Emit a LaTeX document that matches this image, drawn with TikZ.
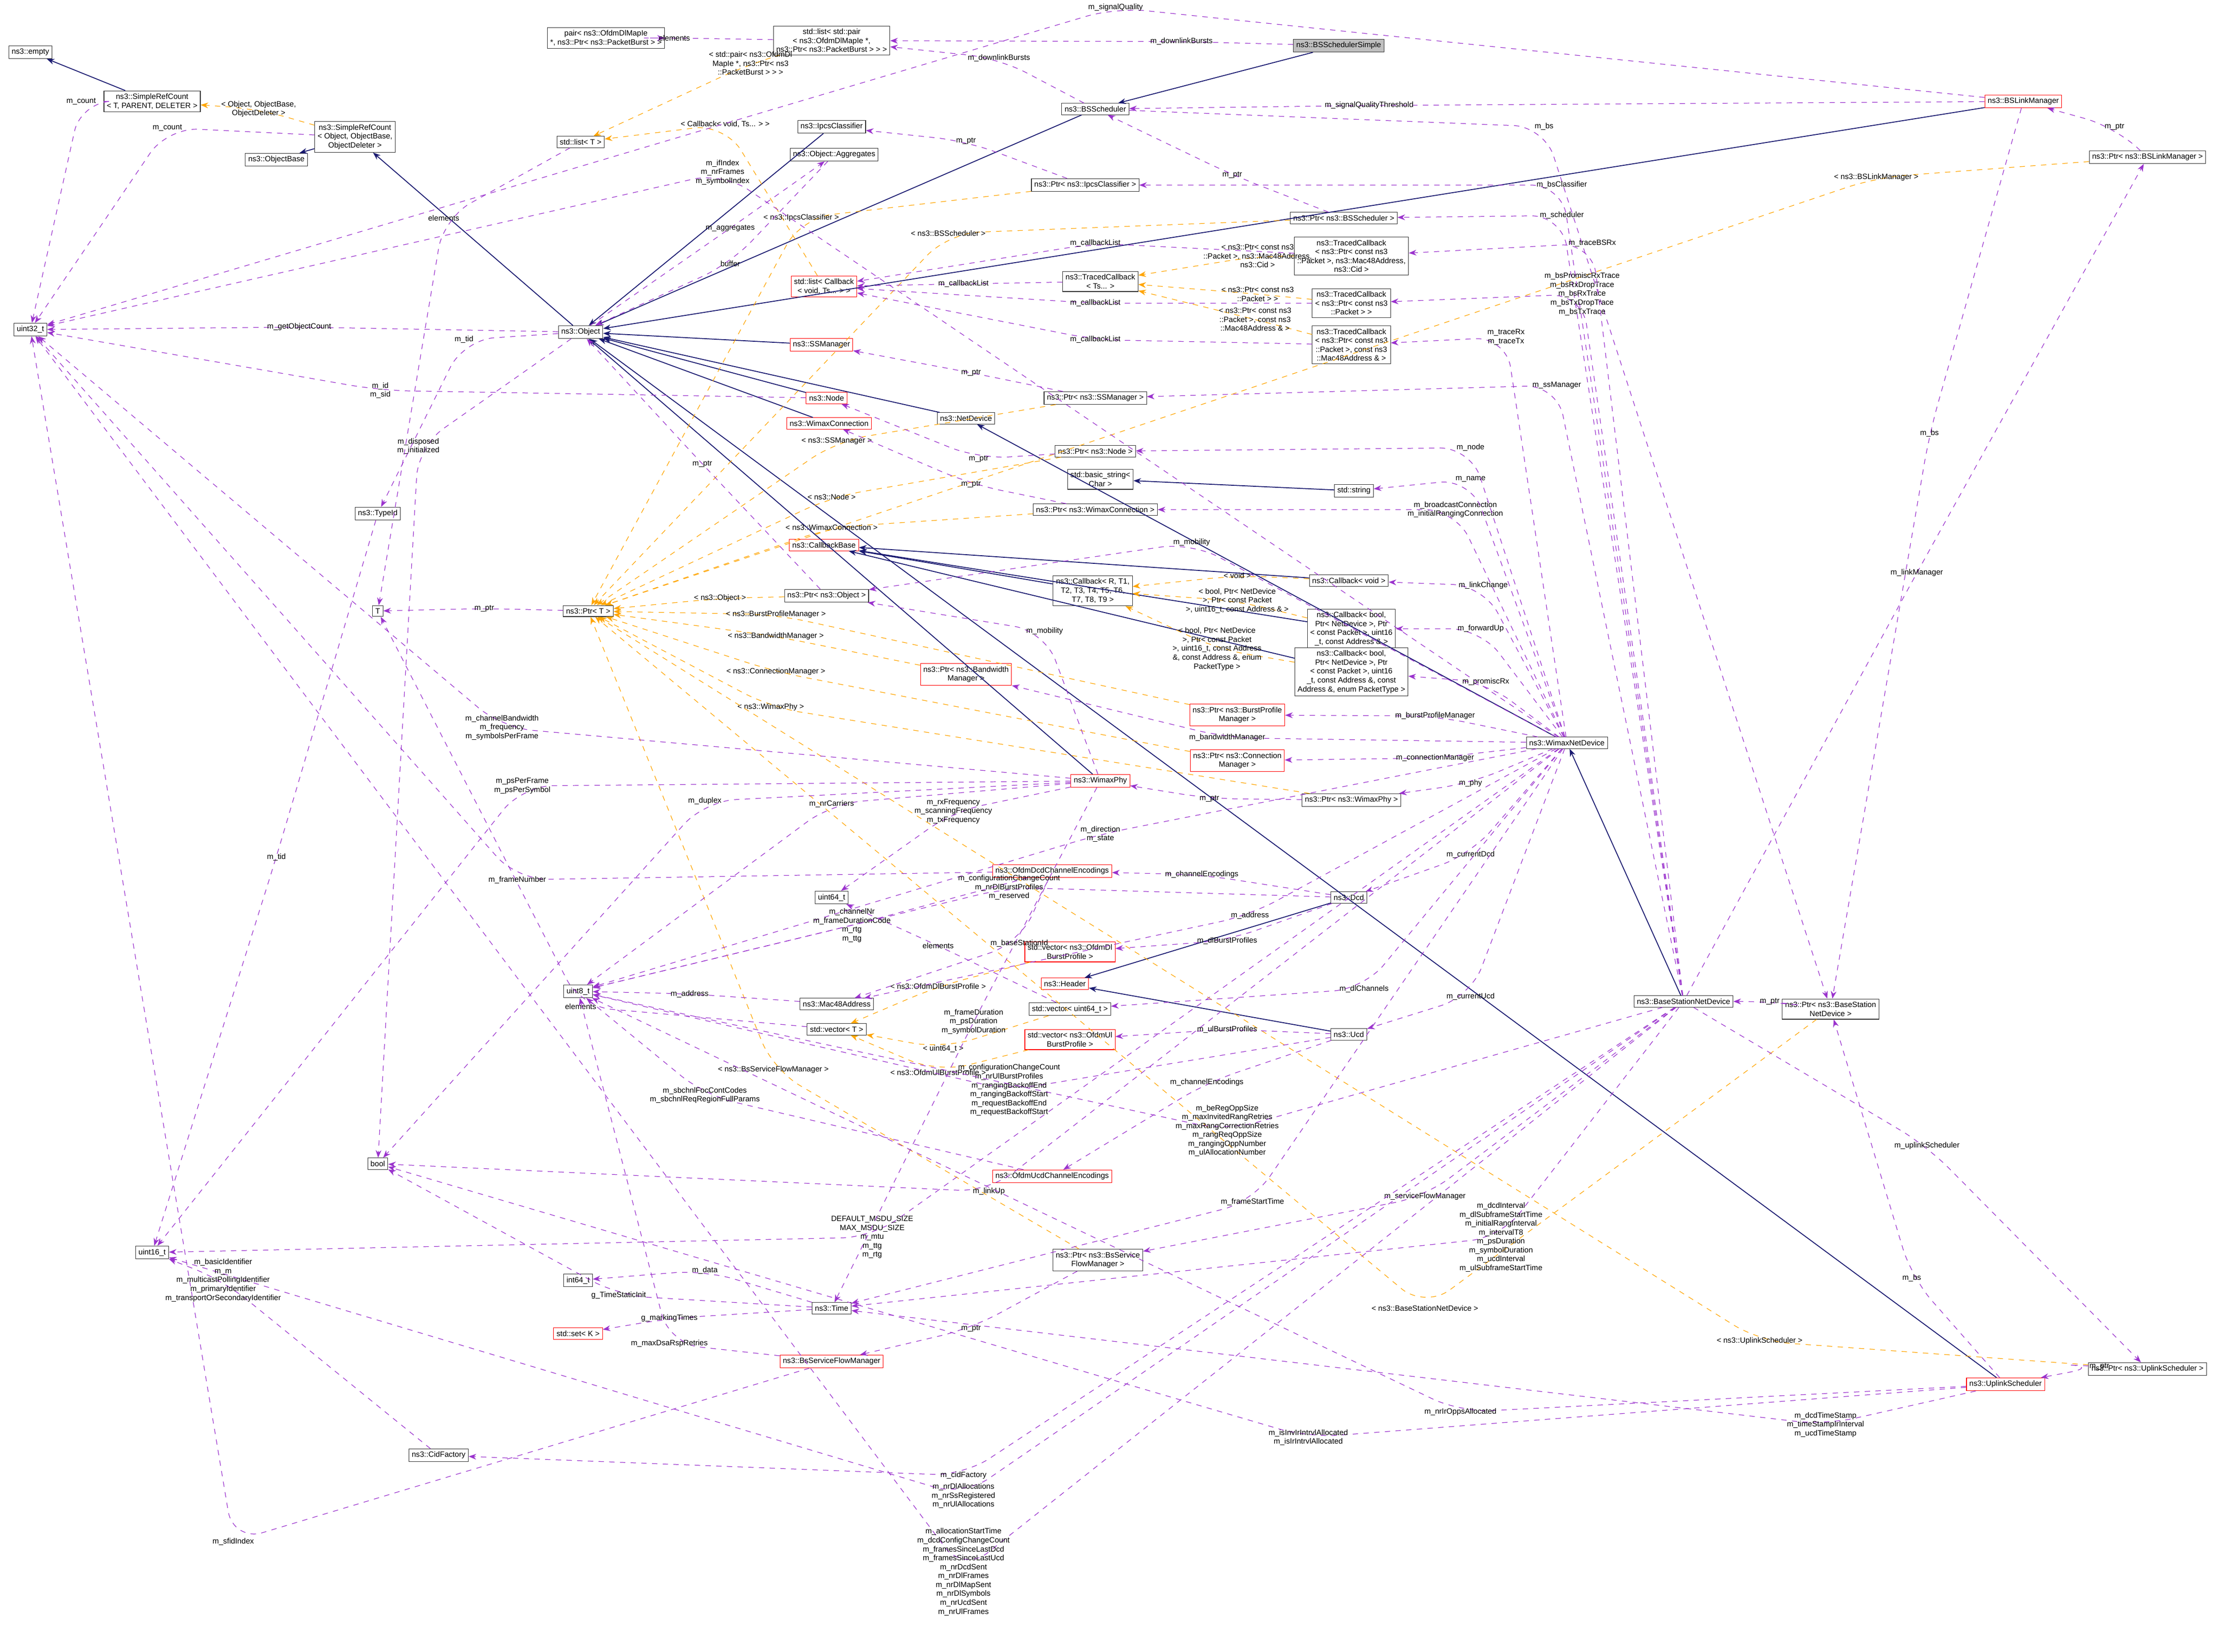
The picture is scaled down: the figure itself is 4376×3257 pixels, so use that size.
\documentclass[tikz,border=0pt]{standalone}
\usepackage{fontspec}
\setmainfont{Liberation Sans}
\usepackage{tikz}
\usetikzlibrary{arrows.meta,positioning,calc}
\definecolor{inhc}{HTML}{191970}
\definecolor{usec}{HTML}{9A32CD}
\definecolor{tplc}{HTML}{FFA500}
\newcommand{\fs}{\fontsize{4.3}{5}\selectfont}
\begin{document}
\begin{tikzpicture}[
    x=0.01cm, y=-0.01cm,
    cls/.style={draw=black!80, fill=white, font=\fs, inner sep=1.6pt, align=center, line width=0.3pt},
    rcls/.style={cls, draw=red},
    gcls/.style={cls, fill=black!25},
    lbl/.style={font=\fs, align=center, inner sep=0.5pt},
    inh/.style={draw=inhc, line width=0.5pt, -{Stealth[length=1.5mm]}},
    use/.style={draw=usec, dashed, line width=0.35pt, rounded corners=0.6cm, -{Stealth[length=1.5mm]}},
    tpl/.style={draw=tplc, dashed, line width=0.35pt, rounded corners=0.6cm, -{Stealth[length=1.5mm]}},
]
    \useasboundingbox[fill=white] (0,0) rectangle (4376,3257);
    % left column
    \node[cls] (empty) at (60,103) {ns3::empty};
    \node[cls] (srct) at (300,200) {ns3::SimpleRefCount\\< T, PARENT, DELETER >};
    \node[cls] (srco) at (700,270) {ns3::SimpleRefCount\\< Object, ObjectBase,\\ObjectDeleter >};
    \node[cls] (objbase) at (545,315) {ns3::ObjectBase};
    \node[cls] (u32) at (60,650) {uint32\_t};
    \node[cls] (object) at (1145,655) {ns3::Object};
    \node[cls] (listt) at (1145,280) {std::list< T >};
    \node[cls] (typeid) at (745,1013) {ns3::TypeId};
    \node[cls] (tt) at (745,1205) {T};
    \node[cls] (ptrt) at (1160,1205) {ns3::Ptr< T >};
    \node[cls] (u8) at (1140,1955) {uint8\_t};
    \node[cls] (bool) at (745,2295) {bool};
    \node[cls] (u16) at (300,2470) {uint16\_t};
    \node[cls] (i64) at (1140,2525) {int64\_t};
    \node[rcls] (setk) at (1140,2630) {std::set< K >};
    \node[cls] (cidf) at (865,2870) {ns3::CidFactory};
    % top
    \node[cls] (pair) at (1195,75) {pair< ns3::OfdmDlMapIe\\ *, ns3::Ptr< ns3::PacketBurst > >};
    \node[cls] (listpair) at (1640,80) {std::list< std::pair\\< ns3::OfdmDlMapIe *,\\ ns3::Ptr< ns3::PacketBurst > > >};
    \node[gcls] (bssimple) at (2640,90) {ns3::BSSchedulerSimple};
    \node[cls] (bssched) at (2160,215) {ns3::BSScheduler};
    \node[rcls] (bslink) at (3990,200) {ns3::BSLinkManager};
    \node[cls] (pbslink) at (4235,310) {ns3::Ptr< ns3::BSLinkManager >};
    % middle column
    \node[cls] (ipcs) at (1640,250) {ns3::IpcsClassifier};
    \node[cls] (aggr) at (1645,305) {ns3::Object::Aggregates};
    \node[cls] (pipcs) at (2140,365) {ns3::Ptr< ns3::IpcsClassifier >};
    \node[cls] (pbssched) at (2650,430) {ns3::Ptr< ns3::BSScheduler >};
    \node[cls] (tc3) at (2665,505) {ns3::TracedCallback\\< ns3::Ptr< const ns3\\::Packet >, ns3::Mac48Address,\\ ns3::Cid >};
    \node[cls] (tcts) at (2170,555) {ns3::TracedCallback\\< Ts... >};
    \node[rcls] (listcb) at (1625,565) {std::list< Callback\\< void, Ts... > >};
    \node[cls] (tc1) at (2665,598) {ns3::TracedCallback\\< ns3::Ptr< const ns3\\::Packet > >};
    \node[cls] (tc2) at (2665,680) {ns3::TracedCallback\\< ns3::Ptr< const ns3\\::Packet >, const ns3\\::Mac48Address \& >};
    \node[rcls] (ssman) at (1620,680) {ns3::SSManager};
    \node[rcls] (node) at (1630,785) {ns3::Node};
    \node[rcls] (wcon) at (1635,835) {ns3::WimaxConnection};
    \node[cls] (netdev) at (1905,825) {ns3::NetDevice};
    \node[cls] (pssman) at (2160,785) {ns3::Ptr< ns3::SSManager >};
    \node[cls] (pnode) at (2160,890) {ns3::Ptr< ns3::Node >};
    \node[cls] (bstr) at (2170,945) {std::basic\_string<\\ Char >};
    \node[cls] (str) at (2670,968) {std::string};
    \node[cls] (pwcon) at (2160,1005) {ns3::Ptr< ns3::WimaxConnection >};
    \node[rcls] (cbbase) at (1625,1075) {ns3::CallbackBase};
    \node[cls] (cbvoid) at (2660,1145) {ns3::Callback< void >};
    \node[cls] (cbr) at (2155,1165) {ns3::Callback< R, T1,\\ T2, T3, T4, T5, T6,\\ T7, T8, T9 >};
    \node[cls] (pobj) at (1630,1175) {ns3::Ptr< ns3::Object >};
    \node[cls] (cbb1) at (2665,1240) {ns3::Callback< bool,\\ Ptr< NetDevice >, Ptr\\< const Packet >, uint16\\\_t, const Address \& >};
    \node[cls] (cbb2) at (2665,1325) {ns3::Callback< bool,\\ Ptr< NetDevice >, Ptr\\< const Packet >, uint16\\\_t, const Address \&, const\\ Address \&, enum PacketType >};
    \node[rcls] (pbwm) at (1905,1330) {ns3::Ptr< ns3::Bandwidth\\Manager >};
    \node[rcls] (pbpm) at (2440,1410) {ns3::Ptr< ns3::BurstProfile\\Manager >};
    \node[cls] (wnd) at (3090,1465) {ns3::WimaxNetDevice};
    \node[rcls] (pcm) at (2440,1500) {ns3::Ptr< ns3::Connection\\Manager >};
    \node[rcls] (phy) at (2170,1540) {ns3::WimaxPhy};
    \node[cls] (pphy) at (2665,1578) {ns3::Ptr< ns3::WimaxPhy >};
    \node[rcls] (dcdenc) at (2075,1718) {ns3::OfdmDcdChannelEncodings};
    \node[cls] (dcd) at (2660,1770) {ns3::Dcd};
    \node[cls] (u64) at (1640,1770) {uint64\_t};
    \node[rcls] (vdl) at (2110,1877) {std::vector< ns3::OfdmDl\\BurstProfile >};
    \node[rcls] (header) at (2100,1940) {ns3::Header};
    \node[cls] (mac) at (1650,1980) {ns3::Mac48Address};
    \node[cls] (vu64) at (2110,1990) {std::vector< uint64\_t >};
    \node[cls] (vt) at (1650,2030) {std::vector< T >};
    \node[rcls] (vul) at (2110,2050) {std::vector< ns3::OfdmUl\\BurstProfile >};
    \node[cls] (ucd) at (2660,2040) {ns3::Ucd};
    \node[rcls] (ucdenc) at (2075,2320) {ns3::OfdmUcdChannelEncodings};
    \node[cls] (bsnd) at (3320,1975) {ns3::BaseStationNetDevice};
    \node[cls] (pbsnd) at (3610,1990) {ns3::Ptr< ns3::BaseStation\\NetDevice >};
    \node[cls] (time) at (1640,2580) {ns3::Time};
    \node[cls] (pbssfm) at (2165,2485) {ns3::Ptr< ns3::BsService\\FlowManager >};
    \node[rcls] (bssfm) at (1640,2685) {ns3::BsServiceFlowManager};
    \node[cls] (pups) at (4235,2700) {ns3::Ptr< ns3::UplinkScheduler >};
    \node[rcls] (ups) at (3955,2730) {ns3::UplinkScheduler};

    % inheritance
    \foreach \a/\b in {srct/empty, srco/objbase, object/srco, bssimple/bssched, bssched/object,
        bslink/object, ipcs/object, ssman/object, node/object, wcon/object, netdev/object,
        wnd/netdev, bsnd/wnd, str/bstr, cbvoid/cbbase, cbr/cbbase, cbb1/cbbase, cbb2/cbbase,
        phy/object, dcd/header, ucd/header, ups/object}
        \draw[inh] (\a) -- (\b);

    % templates
    \foreach \a/\b/\x/\y/\t in {srco/srct/510/215/{< Object, ObjectBase,\\ObjectDeleter >},
        listpair/listt/1480/125/{< std::pair< ns3::OfdmDl\\MapIe *, ns3::Ptr< ns3\\::PacketBurst > > >},
        listcb/listt/1430/245/{< Callback< void, Ts... > >},
        pbslink/ptrt/3700/350/{< ns3::BSLinkManager >}, pipcs/ptrt/1580/430/{< ns3::IpcsClassifier >},
        pbssched/ptrt/1870/460/{< ns3::BSScheduler >},
        tc3/tcts/2480/505/{< ns3::Ptr< const ns3\\::Packet >, ns3::Mac48Address,\\ ns3::Cid >},
        tc1/tcts/2480/580/{< ns3::Ptr< const ns3\\::Packet > >},
        tc2/tcts/2475/630/{< ns3::Ptr< const ns3\\::Packet >, const ns3\\::Mac48Address \& >},
        pssman/ptrt/1650/870/{< ns3::SSManager >}, pnode/ptrt/1640/980/{< ns3::Node >},
        pwcon/ptrt/1640/1040/{< ns3::WimaxConnection >},
        pobj/ptrt/1420/1180/{< ns3::Object >}, cbvoid/cbr/2440/1135/{< void >},
        cbb1/cbr/2440/1185/{< bool, Ptr< NetDevice\\ >, Ptr< const Packet\\ >, uint16\_t, const Address \& >},
        cbb2/cbr/2400/1280/{< bool, Ptr< NetDevice\\ >, Ptr< const Packet\\ >, uint16\_t, const Address\\ \&, const Address \&, enum\\ PacketType >},
        pbwm/ptrt/1530/1255/{< ns3::BandwidthManager >}, pbpm/ptrt/1530/1212/{< ns3::BurstProfileManager >},
        pcm/ptrt/1530/1325/{< ns3::ConnectionManager >}, pphy/ptrt/1520/1395/{< ns3::WimaxPhy >},
        vdl/vt/1850/1945/{< ns3::OfdmDlBurstProfile >}, vu64/vt/1860/2068/{< uint64\_t >},
        vul/vt/1850/2115/{< ns3::OfdmUlBurstProfile >},
        pbssfm/ptrt/1525/2110/{< ns3::BsServiceFlowManager >},
        pbsnd/ptrt/2810/2580/{< ns3::BaseStationNetDevice >},
        pups/ptrt/3470/2645/{< ns3::UplinkScheduler >}}
        \draw[tpl] (\a) -- (\x,\y) node[lbl] {\t} -- (\b);

    % usage
    \foreach \a/\b/\x/\y/\t in {srct/u32/160/200/{m\_count}, srco/u32/330/252/{m\_count},
        object/u32/590/645/{m\_getObjectCount},
        object/aggr/1440/450/{m\_aggregates}, aggr/object/1440/520/{buffer}, object/typeid/915/670/{m\_tid},
        object/bool/825/880/{m\_disposed\\m\_initialized}, typeid/u16/545/1690/{m\_tid},
        node/u32/750/770/{m\_id\\m\_sid},
        listt/tt/875/430/{elements}, listpair/pair/1330/75/{elements},
        bssched/listpair/1970/115/{m\_downlinkBursts},
        bssimple/listpair/2330/82/{m\_downlinkBursts}, bslink/pbsnd/3805/855/{m\_bs},
        bslink/u32/2200/15/{m\_signalQuality},
        bslink/bssched/2700/208/{m\_signalQualityThreshold}, bssched/pbsnd/3045/250/{m\_bs},
        pbslink/bslink/4170/250/{m\_ptr}, pipcs/ipcs/1905/278/{m\_ptr}, pbssched/bssched/2430/345/{m\_ptr},
        tc3/listcb/2160/480/{m\_callbackList}, tc1/listcb/2160/598/{m\_callbackList},
        tc2/listcb/2160/670/{m\_callbackList},
        tcts/listcb/1900/560/{m\_callbackList}, pssman/ssman/1915/735/{m\_ptr},
        pnode/node/1930/905/{m\_ptr}, pwcon/wcon/1915/955/{m\_ptr},
        pobj/object/1385/915/{m\_ptr}, ptrt/tt/955/1200/{m\_ptr}, pphy/phy/2385/1575/{m\_ptr},
        pbssfm/bssfm/1915/2620/{m\_ptr},
        pbsnd/bsnd/3490/1975/{m\_ptr}, pups/ups/4140/2695/{m\_ptr}, vt/tt/1145/1985/{elements},
        vu64/u64/1850/1865/{elements},
        mac/u8/1360/1960/{m\_address}, time/i64/1390/2505/{m\_data}, time/setk/1320/2600/{g\_markingTimes},
        time/bool/1220/2555/{g\_TimeStaticInit},
        wnd/pphy/2900/1545/{m\_phy}, wnd/pcm/2830/1495/{m\_connectionManager},
        wnd/pbpm/2830/1412/{m\_burstProfileManager},
        wnd/pbwm/2420/1455/{m\_bandwidthManager}, wnd/cbb2/2930/1345/{m\_promiscRx},
        wnd/cbb1/2920/1240/{m\_forwardUp},
        wnd/cbvoid/2925/1155/{m\_linkChange},
        wnd/pwcon/2870/1005/{m\_broadcastConnection\\m\_initialRangingConnection},
        wnd/str/2900/945/{m\_name}, wnd/pnode/2900/883/{m\_node}, wnd/tc2/2970/665/{m\_traceRx\\m\_traceTx},
        wnd/pobj/2350/1070/{m\_mobility},
        wnd/dcd/2900/1685/{m\_currentDcd}, wnd/ucd/2900/1965/{m\_currentUcd},
        wnd/u8/2170/1645/{m\_direction\\m\_state},
        wnd/mac/2465/1805/{m\_address}, wnd/bool/1950/2350/{m\_linkUp}, wnd/vu64/2690/1950/{m\_dlChannels},
        wnd/u16/1720/2440/{DEFAULT\_MSDU\_SIZE\\MAX\_MSDU\_SIZE\\m\_mtu\\m\_ttg\\m\_rtg},
        wnd/time/2470/2370/{m\_frameStartTime}, wnd/u32/1425/340/{m\_ifIndex\\m\_nrFrames\\m\_symbolIndex},
        phy/u32/990/1435/{m\_channelBandwidth\\m\_frequency\\m\_symbolsPerFrame},
        phy/u16/1030/1550/{m\_psPerFrame\\m\_psPerSymbol}, phy/bool/1390/1580/{m\_duplex},
        phy/u8/1640/1585/{m\_nrCarriers},
        phy/u64/1880/1600/{m\_rxFrequency\\m\_scanningFrequency\\m\_txFrequency},
        phy/time/1920/2015/{m\_frameDuration\\m\_psDuration\\m\_symbolDuration},
        phy/pobj/2060/1245/{m\_mobility},
        dcdenc/u32/1020/1735/{m\_frameNumber}, dcdenc/u8/1680/1825/{m\_channelNr\\m\_frameDurationCode\\m\_rtg\\m\_ttg},
        dcdenc/mac/2010/1860/{m\_baseStationId}, dcd/dcdenc/2370/1725/{m\_channelEncodings},
        dcd/vdl/2420/1855/{m\_dlBurstProfiles},
        dcd/u8/1990/1750/{m\_configurationChangeCount\\m\_nrDlBurstProfiles\\m\_reserved},
        ucd/ucdenc/2380/2135/{m\_channelEncodings}, ucd/vul/2420/2030/{m\_ulBurstProfiles},
        ucd/u8/1990/2150/{m\_configurationChangeCount\\m\_nrUlBurstProfiles\\m\_rangingBackoffEnd\\m\_rangingBackoffStart\\m\_requestBackoffEnd\\m\_requestBackoffStart},
        ucdenc/u8/1390/2160/{m\_sbchnlFocContCodes\\m\_sbchnlReqRegionFullParams},
        bssfm/u32/460/3040/{m\_sfidIndex}, bssfm/u8/1320/2650/{m\_maxDsaRspRetries},
        bsnd/pbssched/3080/425/{m\_scheduler}, bsnd/pipcs/3080/365/{m\_bsClassifier},
        bsnd/tc1/3120/580/{m\_bsPromiscRxTrace\\m\_bsRxDropTrace\\m\_bsRxTrace\\m\_bsTxDropTrace\\m\_bsTxTrace},
        bsnd/tc3/3140/480/{m\_traceBSRx}, bsnd/pssman/3070/760/{m\_ssManager},
        bsnd/pbslink/3780/1130/{m\_linkManager},
        bsnd/pups/3800/2260/{m\_uplinkScheduler}, bsnd/pbssfm/2810/2360/{m\_serviceFlowManager},
        bsnd/cidf/1900/2910/{m\_cidFactory},
        bsnd/time/2960/2440/{m\_dcdInterval\\m\_dlSubframeStartTime\\m\_initialRangInterval\\m\_intervalT8\\m\_psDuration\\m\_symbolDuration\\m\_ucdInterval\\m\_ulSubframeStartTime},
        bsnd/u32/1900/3100/{m\_allocationStartTime\\m\_dcdConfigChangeCount\\m\_framesSinceLastDcd\\m\_framesSinceLastUcd\\m\_nrDcdSent\\m\_nrDlFrames\\m\_nrDlMapSent\\m\_nrDlSymbols\\m\_nrUcdSent\\m\_nrUlFrames},
        bsnd/u16/1900/2950/{m\_nrDlAllocations\\m\_nrSsRegistered\\m\_nrUlAllocations},
        bsnd/u8/2420/2230/{m\_beRegOppSize\\m\_maxInvitedRangRetries\\m\_maxRangCorrectionRetries\\m\_rangReqOppSize\\m\_rangingOppNumber\\m\_ulAllocationNumber},
        ups/pbsnd/3770/2520/{m\_bs}, ups/time/3600/2810/{m\_dcdTimeStamp\\m\_timeStampIrInterval\\m\_ucdTimeStamp},
        ups/bool/2580/2835/{m\_isInvIrIntrvlAllocated\\m\_isIrIntrvlAllocated},
        ups/u8/2880/2785/{m\_nrIrOppsAllocated},
        cidf/u16/440/2525/{m\_basicIdentifier\\m\_m\\m\_multicastPollingIdentifier\\m\_primaryIdentifier\\m\_transportOrSecondaryIdentifier}}
        \draw[use] (\a) -- (\x,\y) node[lbl] {\t} -- (\b);
\end{tikzpicture}
\end{document}
